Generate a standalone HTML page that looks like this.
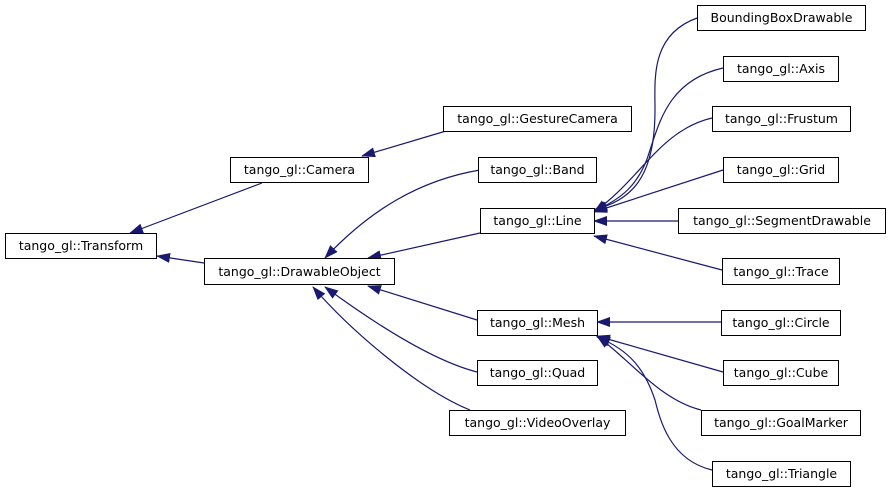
<!DOCTYPE html>
<html><head><meta charset="utf-8"><style>body{margin:0;background:#fff}svg{display:block}text{font-family:"DejaVu Sans",sans-serif;font-size:12.5px;fill:#000}</style></head>
<body>
<svg width="891" height="493" viewBox="0 0 891 493">
<defs><marker id="a" markerWidth="14" markerHeight="10" refX="13" refY="5" orient="auto" markerUnits="userSpaceOnUse"><path d="M0,0 L14,5 L0,10 z" fill="#191970"/></marker></defs>
<g fill="none" stroke="#191970" stroke-width="1.2" marker-end="url(#a)">
<path d="M262,183 L130,233"/>
<path d="M446,131 L362,156"/>
<path d="M204,263 L157,256"/>
<path d="M480,170 C420,180 370,210 325,258"/>
<path d="M480,233 L368,258"/>
<path d="M477,320 L368,286"/>
<path d="M477,372 C430,360 370,320 325,287"/>
<path d="M470,410 C420,390 350,330 313,287"/>
<path d="M697,18 C650,35 655,80 655,110 C655,180 630,200 594,210"/>
<path d="M723,68 C670,80 660,120 650,150 C640,185 620,200 594,211"/>
<path d="M712,118 C660,130 640,180 594,212"/>
<path d="M723,170 L594,212"/>
<path d="M678,221 L594,221"/>
<path d="M722,270 L594,236"/>
<path d="M721,322 L597,322"/>
<path d="M723,372 L597,336"/>
<path d="M701,410 C660,400 630,360 597,336"/>
<path d="M712,470 C670,460 660,420 655,400 C645,370 630,350 597,337"/>
</g>
<g fill="#fff" stroke="#000" stroke-width="1">
<rect x="5.5" y="233.5" width="151" height="25"/>
<rect x="230.5" y="157.5" width="138" height="25"/>
<rect x="443.5" y="106.5" width="188" height="25"/>
<rect x="204.5" y="258.5" width="190" height="26"/>
<rect x="478.5" y="157.5" width="118" height="25"/>
<rect x="480.5" y="208.5" width="114" height="25"/>
<rect x="477.5" y="310.5" width="120" height="25"/>
<rect x="477.5" y="360.5" width="120" height="25"/>
<rect x="449.5" y="410.5" width="176" height="25"/>
<rect x="697.5" y="5.5" width="168" height="25"/>
<rect x="723.5" y="56.5" width="115" height="25"/>
<rect x="712.5" y="106.5" width="138" height="25"/>
<rect x="723.5" y="157.5" width="115" height="25"/>
<rect x="678.5" y="208.5" width="207" height="25"/>
<rect x="722.5" y="258.5" width="117" height="26"/>
<rect x="721.5" y="310.5" width="119" height="25"/>
<rect x="723.5" y="360.5" width="115" height="25"/>
<rect x="701.5" y="410.5" width="159" height="25"/>
<rect x="712.5" y="461.5" width="138" height="25"/>
</g>
<g text-anchor="middle">
<text x="81" y="250">tango_gl::Transform</text>
<text x="299.5" y="174">tango_gl::Camera</text>
<text x="537.5" y="123">tango_gl::GestureCamera</text>
<text x="299.5" y="276">tango_gl::DrawableObject</text>
<text x="537.5" y="174">tango_gl::Band</text>
<text x="537.5" y="225">tango_gl::Line</text>
<text x="537.5" y="327">tango_gl::Mesh</text>
<text x="537.5" y="377">tango_gl::Quad</text>
<text x="537.5" y="427">tango_gl::VideoOverlay</text>
<text x="781.5" y="22">BoundingBoxDrawable</text>
<text x="781" y="73">tango_gl::Axis</text>
<text x="781.5" y="123">tango_gl::Frustum</text>
<text x="781" y="174">tango_gl::Grid</text>
<text x="782" y="225">tango_gl::SegmentDrawable</text>
<text x="781" y="276">tango_gl::Trace</text>
<text x="781" y="327">tango_gl::Circle</text>
<text x="781" y="377">tango_gl::Cube</text>
<text x="781" y="427">tango_gl::GoalMarker</text>
<text x="781.5" y="478">tango_gl::Triangle</text>
</g>
</svg>
</body></html>
